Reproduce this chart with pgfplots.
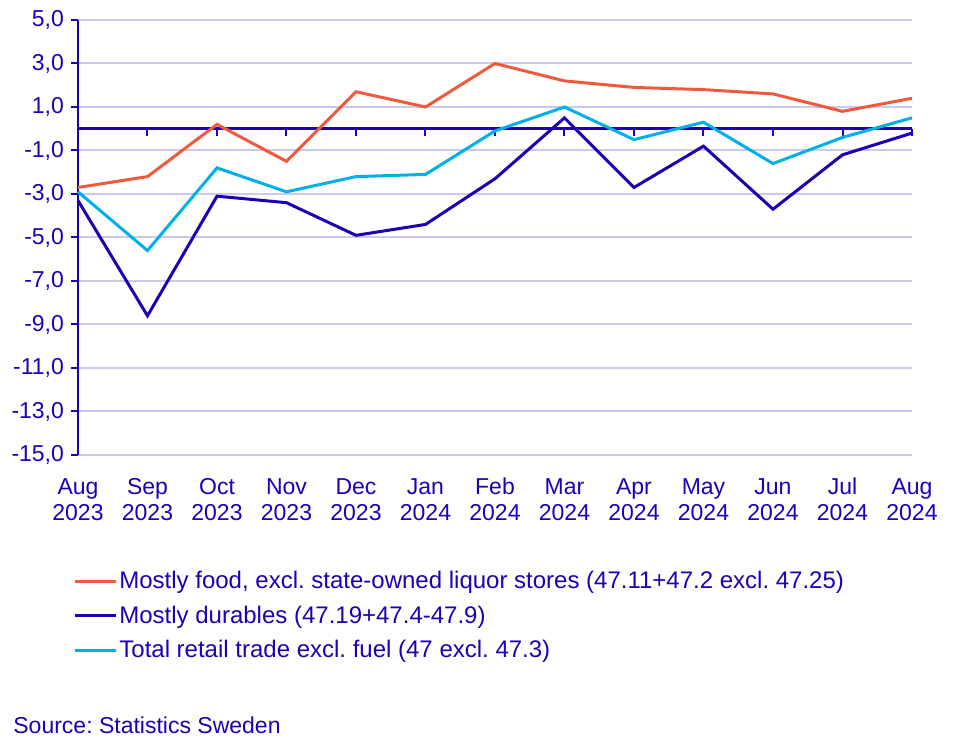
\documentclass[border=0pt]{standalone}
\usepackage{fontspec}
\setmainfont{Liberation Sans}
\usepackage{pgfplots}
\pgfplotsset{compat=1.18}
\definecolor{sred}{RGB}{240,90,60}
\definecolor{sdark}{RGB}{30,0,180}
\definecolor{slight}{RGB}{0,176,230}
\definecolor{sgrid}{RGB}{205,200,240}
\newcommand{\chfont}{\fontsize{11.5}{13}\selectfont}
\newcommand{\lgfont}{\fontsize{12}{13.5}\selectfont}
\frenchspacing
\begin{document}
\begin{tikzpicture}
\path[use as bounding box] (-39pt,-144pt) rectangle (443.5pt,227.5pt);
\begin{axis}[
  at={(0,0)}, anchor=south west,
  width=417pt, height=217.5pt, scale only axis,
  xmin=0, xmax=12, ymin=-15, ymax=5,
  ytick={-15,-13,...,5},
  xtick={0,...,12},
  xticklabels={\strut Aug\\2023,\strut Sep\\2023,\strut Oct\\2023,\strut Nov\\2023,\strut Dec\\2023,\strut Jan\\2024,\strut Feb\\2024,\strut Mar\\2024,\strut Apr\\2024,\strut May\\2024,\strut Jun\\2024,\strut Jul\\2024,\strut Aug\\2024},
  tick label style={font=\chfont, text=sdark},
  xticklabel style={align=center, yshift=-3.6pt},
  axis x line*=bottom, axis y line*=left,
  x axis line style={draw=none,-},
  y axis line style={sdark, line width=1pt,-},
  xtick style={draw=none},
  ytick style={sdark, line width=1pt},
  tick align=outside,
  major tick length=3.5pt,
  ymajorgrids,
  major grid style={sgrid, line width=1pt},
  /pgf/number format/assume math mode=true,
  yticklabel={\pgfmathprintnumber[fixed,fixed zerofill,precision=1,use comma]{\tick}},
  clip=false,
  legend cell align=left,
  legend style={at={(-0.006,-0.262)}, anchor=north west, draw=none, fill=none,
    font=\lgfont, text=sdark, row sep=5pt, inner sep=0pt, nodes={inner sep=1pt}},
  legend image code/.code={\draw[#1, line width=1.5pt] (0pt,0pt) -- (20.5pt,0pt);},
]
\draw[sdark, line width=1.3pt] (axis cs:0,0) -- (axis cs:12,0);
\pgfplotsinvokeforeach{1,...,12}{\draw[sdark, line width=1pt] (axis cs:#1,0) -- ([yshift=-3.5pt]axis cs:#1,0);}
\addplot[sred, line width=1.5pt] coordinates {
(0,-2.7) (1,-2.2) (2,0.2) (3,-1.5) (4,1.7) (5,1.0) (6,3.0) (7,2.2) (8,1.9) (9,1.8) (10,1.6) (11,0.8) (12,1.4)};
\addlegendentry{Mostly food, excl. state-owned liquor stores (47.11+47.2 excl. 47.25)}
\addplot[sdark, line width=1.5pt] coordinates {
(0,-3.3) (1,-8.6) (2,-3.1) (3,-3.4) (4,-4.9) (5,-4.4) (6,-2.3) (7,0.5) (8,-2.7) (9,-0.8) (10,-3.7) (11,-1.2) (12,-0.2)};
\addlegendentry{Mostly durables (47.19+47.4-47.9)}
\addplot[slight, line width=1.5pt] coordinates {
(0,-2.9) (1,-5.6) (2,-1.8) (3,-2.9) (4,-2.2) (5,-2.1) (6,-0.1) (7,1.0) (8,-0.5) (9,0.3) (10,-1.6) (11,-0.4) (12,0.5)};
\addlegendentry{Total retail trade excl. fuel (47 excl. 47.3)}
\end{axis}
\node[anchor=west, font=\chfont, text=sdark, inner sep=0pt] at (-32.5pt,-135pt) {Source: Statistics Sweden};
\end{tikzpicture}
\end{document}
